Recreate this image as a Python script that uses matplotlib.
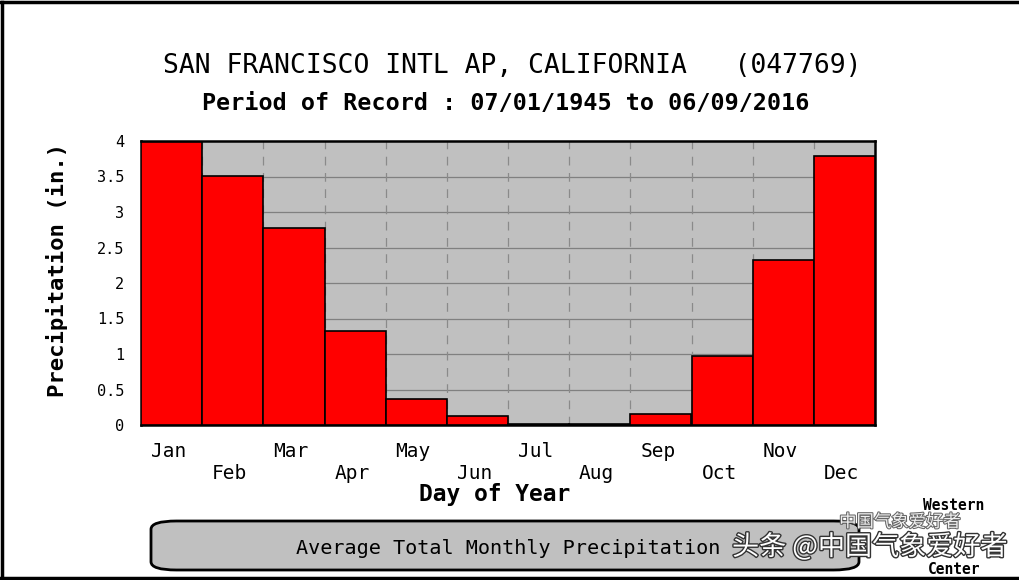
import numpy as np
import matplotlib.pyplot as plt
from matplotlib.patches import FancyBboxPatch
import matplotlib.patheffects as pe
from matplotlib.transforms import blended_transform_factory

# data
months = ['Jan', 'Feb', 'Mar', 'Apr', 'May', 'Jun',
          'Jul', 'Aug', 'Sep', 'Oct', 'Nov', 'Dec']
precip = [3.99, 3.51, 2.78, 1.33, 0.36, 0.13,
          0.01, 0.02, 0.15, 0.97, 2.32, 3.79]
yticks = [0, 0.5, 1, 1.5, 2, 2.5, 3, 3.5, 4]
ytick_labels = ['0', '0.5', '1', '1.5', '2', '2.5', '3', '3.5', '4']

mono = 'DejaVu Sans Mono'

fig = plt.figure(figsize=(10.2, 5.8), dpi=100)
fig.patch.set_facecolor('white')

ax = fig.add_axes([141 / 1020, 1 - 425 / 580, 734 / 1020, 284 / 580])
ax.set_facecolor('#c0c0c0')

x = np.arange(len(months))
ax.bar(x, precip, width=1.0, align='edge', color='#ff0000',
       edgecolor='black', linewidth=1.2, zorder=3)

ax.set_xlim(0, 12)
ax.set_ylim(0, 4)

# grid: solid horizontal, dashed vertical at month boundaries
for yv in yticks[1:-1]:
    ax.axhline(yv, color='#808080', lw=0.9, zorder=1)
for xv in range(1, 12):
    ax.axvline(xv, color='#8a8a8a', lw=0.9, ls=(0, (7, 6)), zorder=1)

for s in ax.spines.values():
    s.set_linewidth(1.8)
    s.set_color('black')

ax.set_yticks(yticks)
ax.set_yticklabels(ytick_labels, fontfamily=mono, fontsize=11)
ax.tick_params(axis='y', length=0, pad=12)
ax.tick_params(axis='x', length=0)
ax.set_xticks([])

# month labels, staggered
tr = blended_transform_factory(ax.transData, ax.transAxes)
for i, m in enumerate(months):
    yy = -0.095 if i % 2 == 0 else -0.17
    ax.text(i + 0.45, yy, m, transform=tr, ha='center', va='center',
            fontfamily=mono, fontsize=14)

ax.set_ylabel('Precipitation (in.)', fontfamily=mono, fontsize=16,
              fontweight='bold')
ax.yaxis.set_label_coords(-0.1, 0.545)
fig.text(495 / 1020, 1 - 494 / 580, 'Day of Year', ha='center', va='center',
         fontfamily=mono, fontsize=16.5, fontweight='bold')

fig.text(512 / 1020, 1 - 66 / 580, 'SAN FRANCISCO INTL AP, CALIFORNIA   (047769)',
         ha='center', va='center', fontfamily=mono, fontsize=19)
fig.text(506 / 1020, 1 - 103 / 580, 'Period of Record : 07/01/1945 to 06/09/2016',
         ha='center', va='center', fontfamily=mono, fontsize=16.8,
         fontweight='bold')

# bottom rounded caption box
box = FancyBboxPatch((151 / 1020, 1 - 570 / 580), 708 / 1020, 49 / 580,
                     boxstyle='round,pad=0,rounding_size=0.025',
                     transform=fig.transFigure, facecolor='#c0c0c0',
                     edgecolor='black', linewidth=2, mutation_aspect=580 / 1020)
fig.patches.append(box)
fig.text(508 / 1020, 1 - 548 / 580, 'Average Total Monthly Precipitation',
         ha='center', va='center', fontfamily=mono, fontsize=14.5)

# WRCC logo text
fig.text(954 / 1020, 1 - 506 / 580, 'Western', ha='center', va='center',
         fontfamily=mono, fontsize=10.5, fontweight='bold')
fig.text(954 / 1020, 1 - 570 / 580, 'Center', ha='center', va='center',
         fontfamily=mono, fontsize=10.5, fontweight='bold')

# watermark
cjk = ['Noto Sans CJK SC', 'DejaVu Sans']
fig.text(900 / 1020, 1 - 522 / 580, '中国气象爱好者', ha='center', va='center',
         family=cjk, fontsize=12.5, color='white', alpha=0.9,
         path_effects=[pe.withStroke(linewidth=1.5, foreground='#555555')])
fig.text(870 / 1020, 1 - 547 / 580, '头条 @中国气象爱好者', ha='center', va='center',
         family=cjk, fontsize=19.5, color='white',
         path_effects=[pe.withStroke(linewidth=2, foreground='#333333')])

# outer frame (top, left, bottom)
fig.add_artist(plt.Line2D([2 / 1020, 2 / 1020], [0.004, 0.997], color='black',
                          lw=2.5, transform=fig.transFigure))
fig.add_artist(plt.Line2D([0, 1], [0.997, 0.997], color='black', lw=2.5,
                          transform=fig.transFigure))
fig.add_artist(plt.Line2D([0, 1], [0.004, 0.004], color='black', lw=2.5,
                          transform=fig.transFigure))

fig.savefig('out.png', dpi=100)
plt.close(fig)
